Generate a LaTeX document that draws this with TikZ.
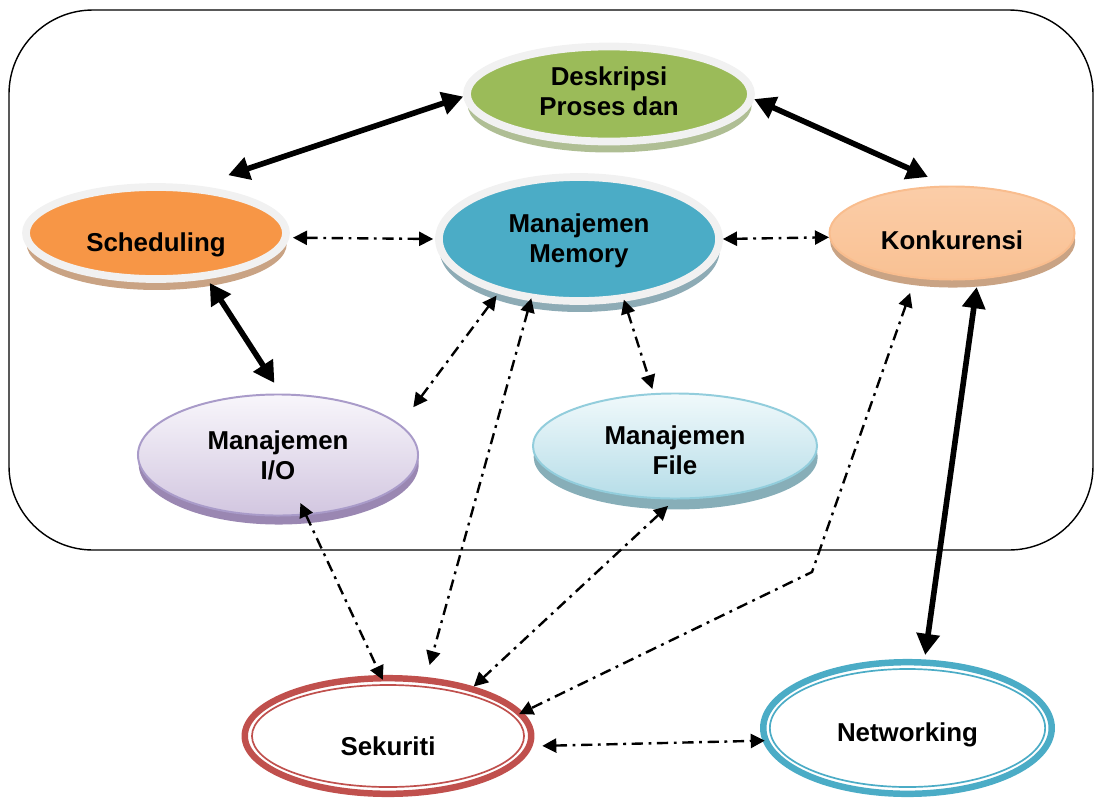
\documentclass[tikz,border=0pt]{standalone}
\usepackage{fontspec}
\setmainfont{Liberation Sans}
\usetikzlibrary{shapes.geometric, arrows.meta, shadows}

\definecolor{rimgray}{HTML}{F1F1F1}
\definecolor{deskgreen}{HTML}{9BBB59}
\definecolor{deskshade}{HTML}{AFBE94}
\definecolor{schedorange}{HTML}{F79646}
\definecolor{schedshade}{HTML}{C9A384}
\definecolor{memblue}{HTML}{4BACC6}
\definecolor{memshade}{HTML}{8DABB5}
\definecolor{konkline}{HTML}{F9BD8E}
\definecolor{konktop}{HTML}{FBCDA8}
\definecolor{konkmid}{HTML}{FDE9D9}
\definecolor{konkbot}{HTML}{F9C193}
\definecolor{ioline}{HTML}{A99BC9}
\definecolor{iotop}{HTML}{F8F6FB}
\definecolor{iobot}{HTML}{D2C6E0}
\definecolor{ioshade}{HTML}{9A87B2}
\definecolor{fileline}{HTML}{92CDDC}
\definecolor{filetop}{HTML}{F0F9FB}
\definecolor{filebot}{HTML}{B6DDE8}
\definecolor{fileshade}{HTML}{87AEB8}
\definecolor{sekred}{HTML}{C0504D}
\definecolor{netblue}{HTML}{4BACC6}

\begin{document}
\begin{tikzpicture}[x=0.025cm, y=-0.025cm, font=\fontsize{18.4}{21.5}\selectfont\bfseries,
    topic/.style={ellipse, inner sep=0pt},
    rim/.style={topic, draw=rimgray, line width=5.5pt},
    thin rim/.style={topic, draw=#1, line width=1.4pt},
    lifted/.style 2 args={drop shadow={shadow xshift=0.5pt, shadow yshift=-#2, fill=#1, opacity=1}},
    ring/.style={topic, draw=#1, line width=4.6pt},
    strong link/.style={>={Triangle[length=15pt, width=16pt]}, <->, line width=4pt},
    weak link/.style={>={Triangle[length=10pt, width=10pt]}, <->, line width=1.7pt,
        dash pattern=on 8pt off 4pt on 2pt off 4pt}]
    \useasboundingbox (0,0) rectangle (1094,798);

    \draw[line width=1pt, rounded corners=2.1cm] (9,10) rectangle (1093,550);

    \node[rim, fill=deskgreen, minimum width=7.1cm, minimum height=2.375cm, lifted={deskshade}{7.8pt},
        label={[align=center, yshift=2pt]center:Deskripsi\\Proses dan}] (desk) at (609,94) {};
    \node[rim, fill=schedorange, minimum width=6.5cm, minimum height=2.3cm, lifted={schedshade}{7.8pt},
        label={[yshift=-8.7pt]center:Scheduling}] (sched) at (156,233) {};
    \node[rim, fill=memblue, minimum width=7cm, minimum height=3.1cm, lifted={memshade}{7.8pt},
        label={[align=center, yshift=-1.2pt]center:Manajemen\\Memory}] (mem) at (579,239) {};
    \node[thin rim=konkline, top color=konktop, middle color=konkmid, bottom color=konkbot,
        minimum width=6.125cm, minimum height=2.325cm, lifted={schedshade}{5.7pt},
        label={[yshift=-5.3pt]center:Konkurensi}] (konk) at (952,233) {};
    \node[thin rim=ioline, top color=iotop, bottom color=iobot,
        minimum width=7cm, minimum height=3.025cm, lifted={ioshade}{6.4pt},
        label={[align=center]center:Manajemen\\I/O}] (io) at (278,455) {};
    \node[thin rim=fileline, top color=filetop, bottom color=filebot,
        minimum width=7.1cm, minimum height=2.625cm, lifted={fileshade}{7.8pt},
        label={[align=center, yshift=-3.2pt]center:Manajemen\\File}] (file) at (675,446) {};
    \node[ring=sekred, fill=white, minimum width=7.16cm, minimum height=2.89cm,
        label={[yshift=-7.4pt]center:Sekuriti}] (sek) at (388,736) {};
    \node[ring=netblue, fill=white, minimum width=7.21cm, minimum height=3.29cm,
        label={[yshift=-5.1pt]center:Networking}] (net) at (907.5,728) {};
    \draw[sekred, line width=1.2pt] (sek.center) ellipse [x radius=3.4cm, y radius=1.275cm];
    \draw[netblue, line width=1.2pt] (net.center) ellipse [x radius=3.44cm, y radius=1.475cm];

    \draw[strong link, shorten >=23.2pt] (desk.181) -- (sched.49);
    \draw[strong link, shorten >=14.9pt] (desk.358) -- (konk.96);
    \draw[strong link, shorten <=3.3pt, shorten >=8.9pt] (sched.318) -- (io.87);
    \draw[strong link, shorten <=5.5pt, shorten >=3.2pt] (konk.299) -- (net.76);

    \draw[weak link, shorten <=2.6pt, shorten >=1.4pt] (sched.358) -- (mem.180);
    \draw[weak link] (mem.0) -- (konk.182);
    \draw[weak link, shorten <=1.9pt, shorten >=15.3pt] (mem.214) -- (io.14);
    \draw[weak link, shorten <=-1.3pt, shorten >=3pt] (mem.306) -- (file.112);
    \draw[weak link, shorten <=-2pt, shorten >=8.9pt] (mem.232) -- (sek.57);
    \draw[weak link, shorten <=-9.6pt, shorten >=-3.8pt] (io.295) -- (sek.97);
    \draw[weak link, shorten <=6.7pt] (file.270) -- (sek.30);
    \coordinate (bend) at (812,572);
    \draw[weak link, shorten <=11pt, shorten >=-3pt] (konk.231) -- (bend) -- (sek.10);
    \draw[weak link, shorten <=7pt, shorten >=-1.6pt] (sek.356) -- (net.185);
\end{tikzpicture}
\end{document}
